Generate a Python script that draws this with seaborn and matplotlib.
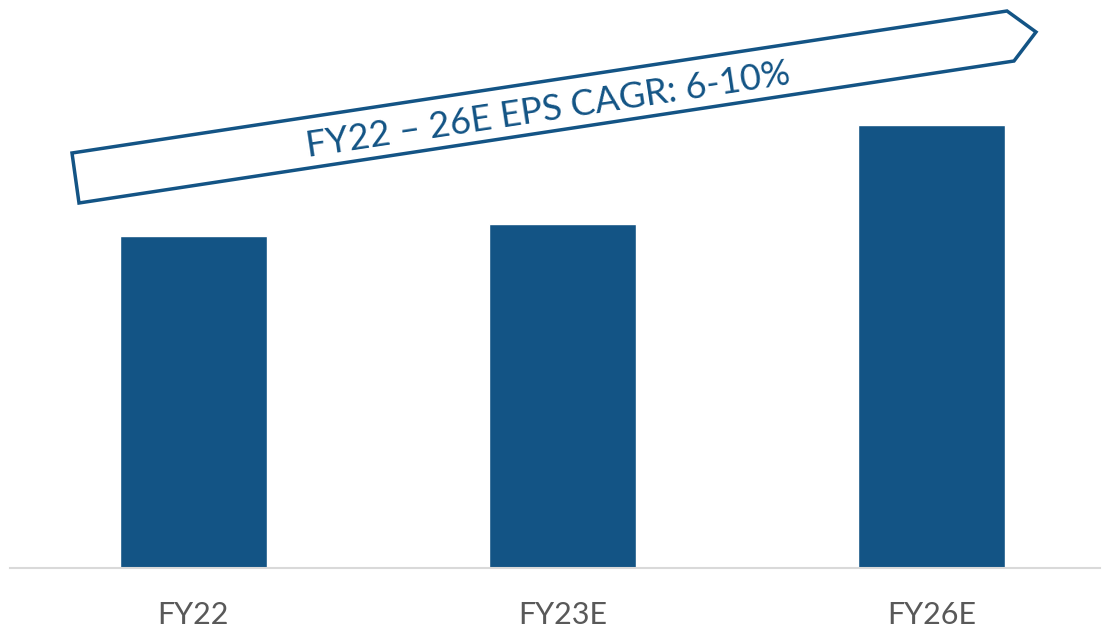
import numpy as np
import pandas as pd
import seaborn as sns
from matplotlib import pyplot as plt
from matplotlib.patches import Polygon

# 数据
categories = ["FY22", "FY23E", "FY26E"]
eps_values = [3.32, 3.44, 4.43]
cagr_label = "FY22 – 26E EPS CAGR: 6-10%"

bar_color = "#135485"
label_color = "#595959"

sns.set_theme(style="white")
plt.rcParams['font.family'] = ['Lato', 'DejaVu Sans']

df = pd.DataFrame({"period": categories, "eps": eps_values})

fig = plt.figure(figsize=(11.07, 6.32), dpi=100)
W, H = 1107, 632
ax = fig.add_axes([10 / W, 64 / H, 1090 / W, 568 / H])

sns.barplot(data=df, x="period", y="eps", color=bar_color, width=0.4,
            saturation=1, ax=ax)

ax.set_xlim(-0.497, 2.457)
ax.set_ylim(0, 5.68)
ax.set_xlabel("")
ax.set_ylabel("")
ax.set_yticks([])
ax.tick_params(axis="x", length=0, pad=24, labelsize=22, labelcolor=label_color)
for side in ["left", "right", "top"]:
    ax.spines[side].set_visible(False)
ax.spines["bottom"].set_color("#d9d9d9")
ax.spines["bottom"].set_linewidth(1.5)

# 增长箭头（像素坐标转换为图坐标）
arrow_px = np.array([[72, 153], [1007, 11], [1036, 32], [1014, 61], [79, 203]], dtype=float)
arrow_fig = np.column_stack([arrow_px[:, 0] / W, 1 - arrow_px[:, 1] / H])
fig.patches.append(Polygon(arrow_fig, closed=True, transform=fig.transFigure,
                           facecolor="white", edgecolor=bar_color, linewidth=2.5))
fig.text(548 / W, 1 - 110 / H, cagr_label, rotation=8.6, rotation_mode="anchor",
         ha="center", va="center", fontsize=26, color=bar_color)

plt.savefig("out.png", dpi=100)
